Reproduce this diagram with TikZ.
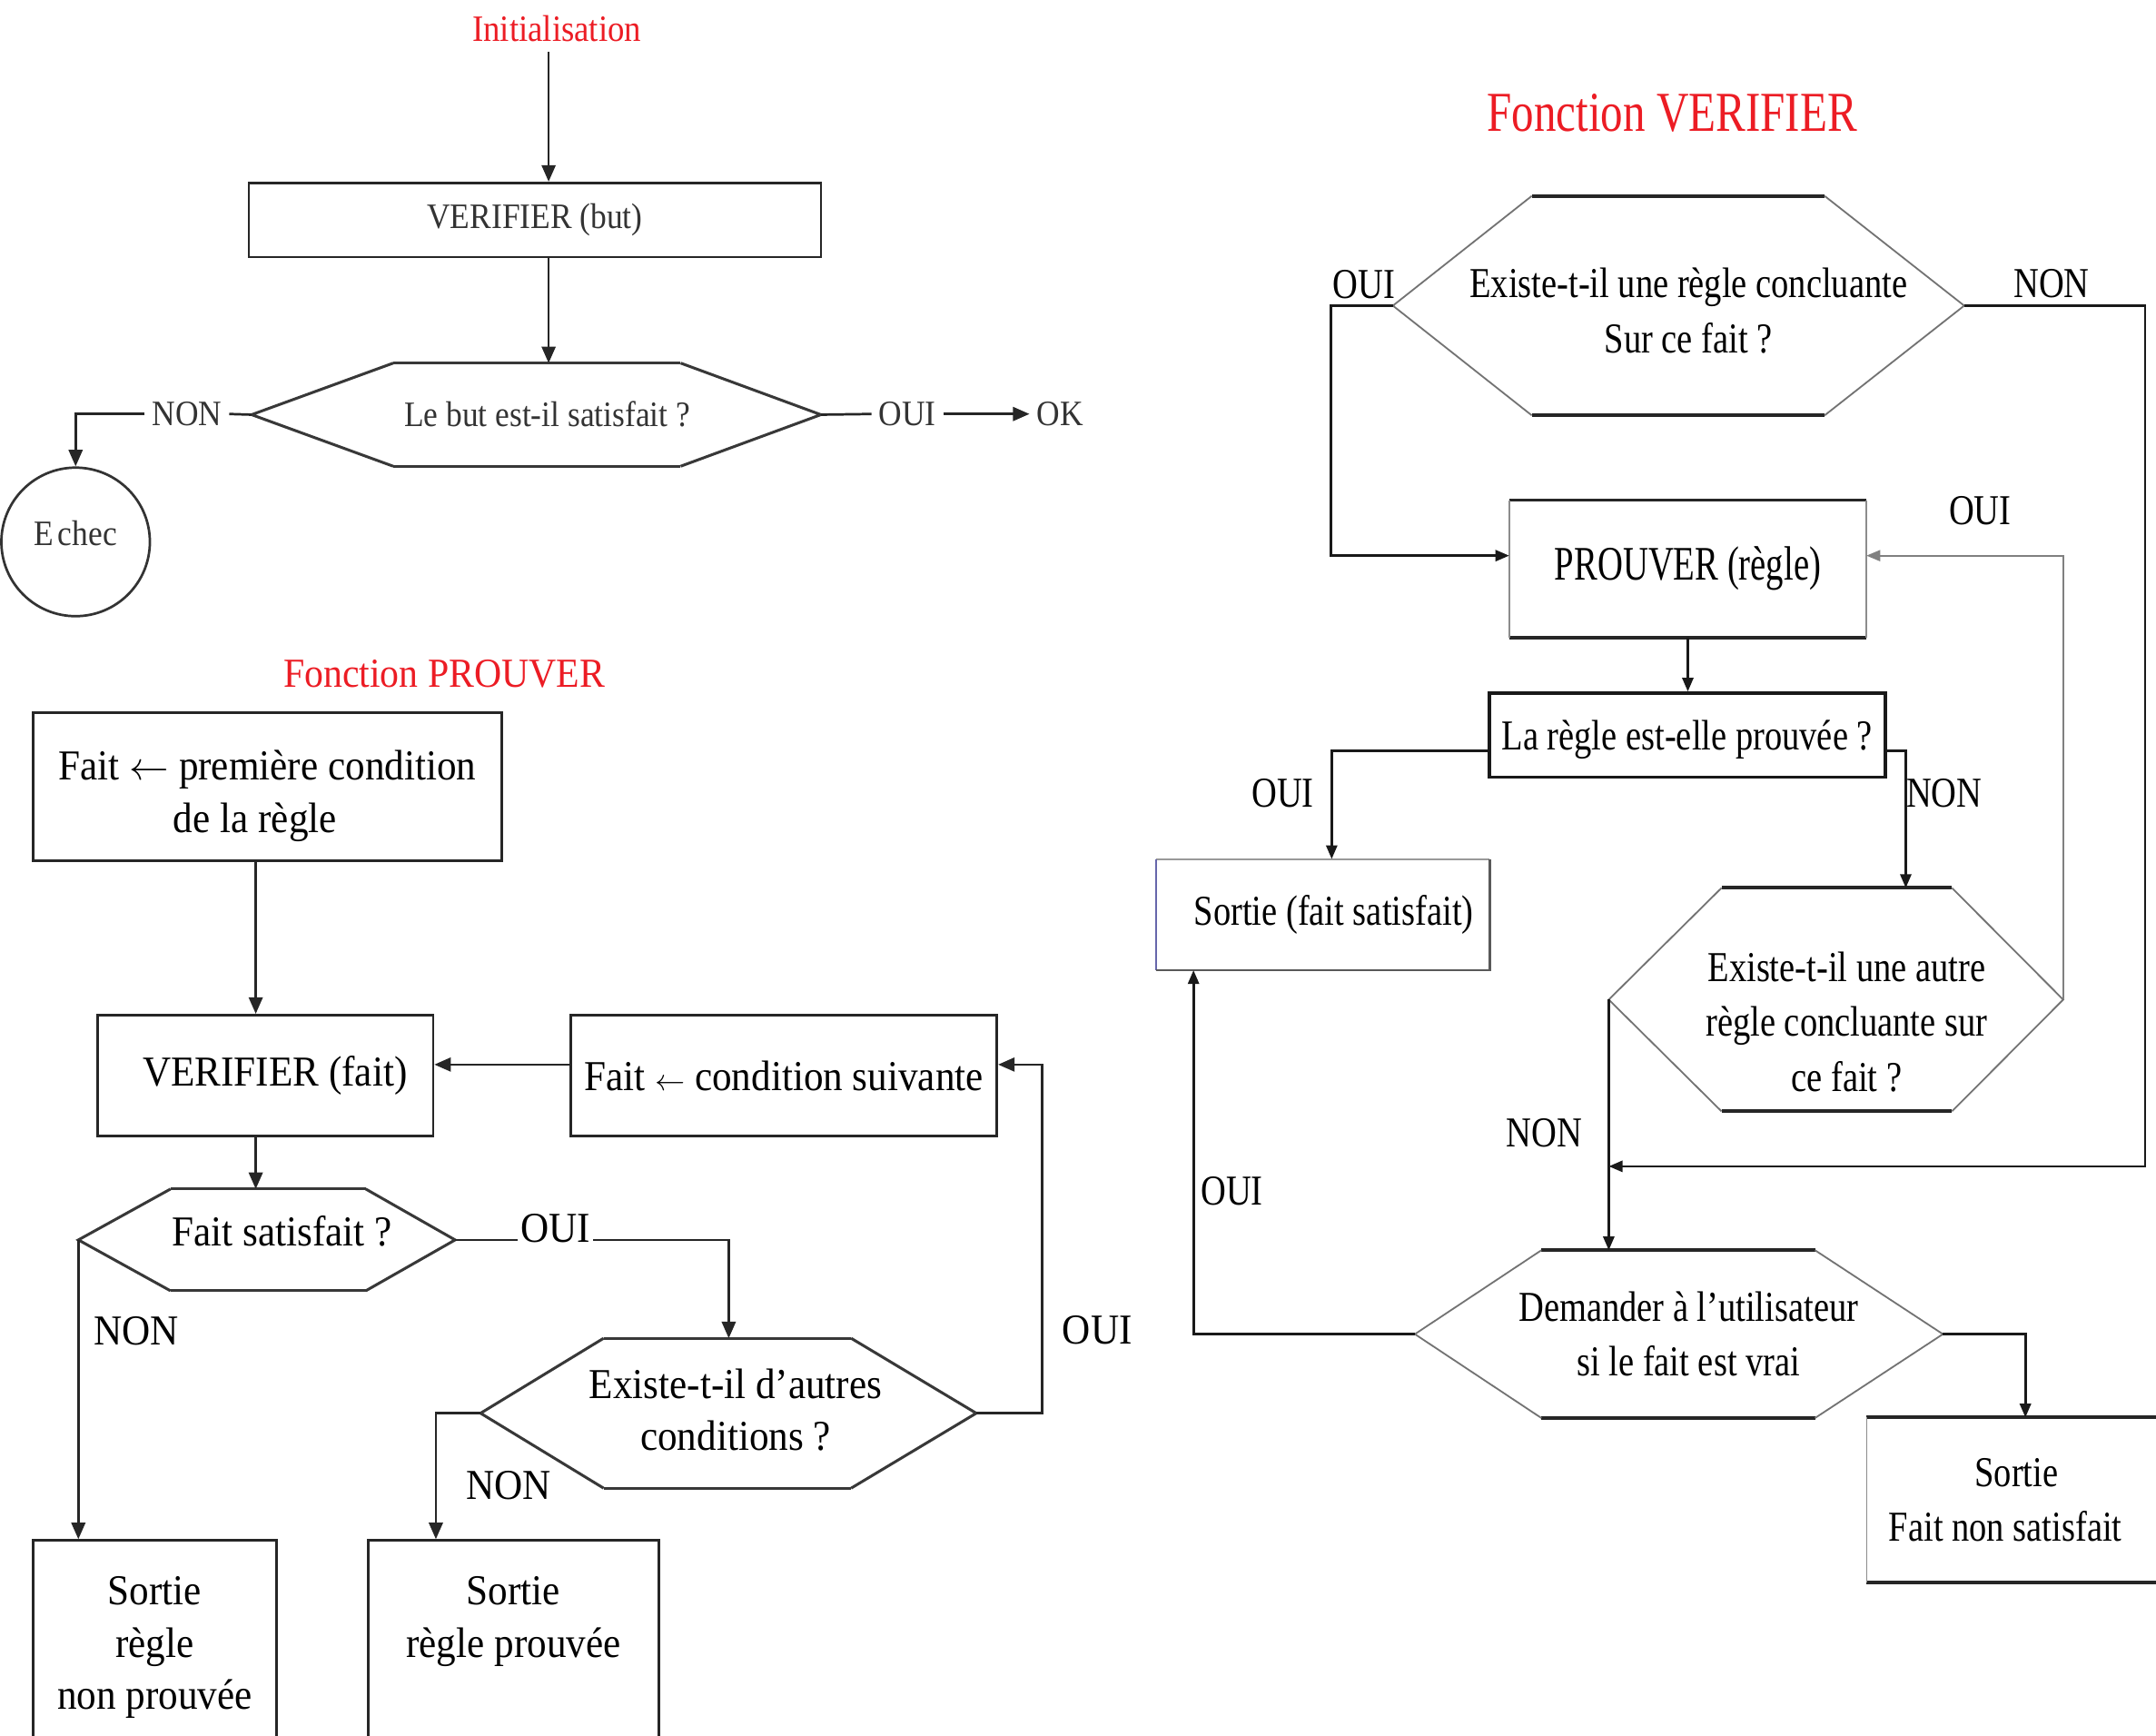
\documentclass[tikz,border=0pt]{standalone}
\usepackage{fontspec}
\setmainfont{Liberation Serif}
\newfontfamily\fT[FakeStretch=0.9]{Liberation Serif}
\newfontfamily\fP[FakeStretch=0.92]{Liberation Serif}
\newfontfamily\fR[FakeStretch=0.82]{Liberation Serif}
\newfontfamily\fRb[FakeStretch=0.73]{Liberation Serif}
\newfontfamily\fV[FakeStretch=0.79]{Liberation Serif}
\usetikzlibrary{arrows.meta,calc}
\definecolor{tred}{RGB}{236,28,36}
\newcommand\myhex[9]{%
  \pgfmathsetmacro\hxm{(#6+#7)/2}%
  \pgfmathsetmacro\hxc{(#3+#4)/2}%
  \coordinate (#1-w) at (#2,\hxm);
  \coordinate (#1-e) at (#5,\hxm);
  \coordinate (#1-n) at (\hxc,#6);
  \coordinate (#1-s) at (\hxc,#7);
  \draw[#8] (#3,#6) -- (#4,#6) (#3,#7) -- (#4,#7);
  \draw[#9] (#3,#6) -- (#2,\hxm) -- (#3,#7) (#4,#6) -- (#5,\hxm) -- (#4,#7);
}
\tikzset{
  ln/.style={line width=0.9pt, draw=black!85},
  arr/.style={ln, -{Triangle[length=6pt,width=5pt]}},
  arrR/.style={line width=0.9pt, draw=black!90, -{Triangle[length=5pt,width=4pt]}},
  arrG/.style={line width=0.6pt, draw=black!50, -{Triangle[length=5pt,width=4pt]}},
  box/.style={draw=black!85, line width=0.9pt, inner sep=0pt, align=center},
  hx/.style={line width=1pt, draw=black!78},
  hxt/.style={line width=1.3pt, draw=black!85},
  hxd/.style={line width=0.6pt, draw=black!55},
  thk/.style={line width=1.3pt, draw=black!85},
  thn/.style={line width=0.6pt, draw=black!45},
  topf/.style={font=\fT\fontsize{13}{16}\selectfont, text=black!80},
  pf/.style={font=\fP\fontsize{15.5}{19}\selectfont},
  rf/.style={font=\fR\fontsize{15.5}{20}\selectfont},
  lbl/.style={inner sep=2.5pt},
}
\begin{document}
\begin{tikzpicture}[x=0.5pt,y=-0.5pt]
\fill[white] (0,0) rectangle (1568,1262);
\useasboundingbox (0,0) rectangle (1568,1262);

% ---------------- Top: initialisation ----------------
\node[font=\fT\fontsize{13.5}{16}\selectfont, text=tred] (init) at (405,21) {Initialisation};
\node[box, topf, minimum width=208pt, minimum height=27pt] (vb) at (389,160) {VERIFIER (but)};
\myhex{hb}{183}{286}{495}{597}{264}{339}{hx}{hx}
\node[topf] (hbt) at (398,301) {Le but est-il satisfait ?};
\node[topf, lbl] (non1) at (136,301) {NON};
\node[topf, lbl] (oui1) at (660,301) {OUI};
\node[topf, lbl] (ok) at (771,301) {OK};
\node[draw=black!80, line width=0.9pt, circle, minimum size=54pt, inner sep=0pt, topf, text height=8.6pt, text depth=6pt] (echec) at (55,394) {E\kern1.5pt chec};

\coordinate (ax) at (399,0);
\draw[arr] (init.south -| ax) -- (vb.north -| ax);
\draw[arr] (vb.south -| ax) -- (hb-n -| ax);
\draw[ln] (hb-w) -- (non1.east);
\draw[arr] (non1.west) -| (echec.north);
\draw[ln] (hb-e) -- (oui1.west);
\draw[arr] (oui1.east) -- (ok.west);

% ---------------- Fonction PROUVER ----------------
\node[font=\fP\fontsize{15}{18}\selectfont, text=tred] (tp) at (323,490) {Fonction PROUVER};
\node[box, pf, minimum width=170.5pt, minimum height=54pt] (b1) at (194.5,572) {\rule{0pt}{17.6pt}Fait $\leftarrow$ première condition\\de la règle\hspace*{9pt}};
\node[box, pf, minimum width=122pt, minimum height=44pt] (vf) at (193,782) {\hspace*{7pt}VERIFIER (fait)};
\node[box, pf, minimum width=155pt, minimum height=44pt] (cs) at (570,782) {Fait $\scriptstyle\leftarrow$ condition suivante};
\myhex{hfs}{57}{124}{266}{331}{864.5}{938.5}{hx}{hx}
\node[pf] (hfst) at (205,895) {Fait satisfait ?};
\myhex{hda}{349.5}{439}{619}{710}{973}{1082}{hx}{hx}
\node[pf, align=center] (hdat) at (535,1025) {Existe-t-il d’autres\\conditions ?};
\node[box, pf, minimum width=88.5pt, minimum height=74pt] (snp) at (112.5,1194) {\rule{0pt}{14.1pt}Sortie\\règle\\non prouvée};
\node[box, pf, minimum width=105.5pt, minimum height=74pt] (srp) at (373.5,1194) {\rule{0pt}{16.6pt}Sortie\\règle prouvée\\\strut};

\coordinate (c186) at (186,0);
\draw[arr] (b1.south -| c186) -- (vf.north -| c186);
\draw[arr] (vf.south -| c186) -- (hfs-n -| c186);
\coordinate (c530) at (530,0);
\draw[arr] (hfs-e) -| (hda-n -| c530);
\draw[arr] (hda-e) -- ++(48,0) |- ([yshift=4pt]cs.east);
\draw[arr] ([yshift=4pt]cs.west) -- ([yshift=4pt]vf.east);
\coordinate (c317) at (317,0);
\draw[arr] (hda-w) -| (srp.north -| c317);
\draw[arr] (hfs-w) -- (hfs-w |- snp.north);

\node[pf, fill=white, inner sep=1pt] (oui2) at (404,893) {OUI};
\node[pf] (non2) at (99,968) {NON};
\node[pf] (oui3) at (798,967) {OUI};
\node[pf] (non3) at (370,1080) {NON};

% ---------------- Fonction VERIFIER ----------------
\node[font=\fV\fontsize{20.5}{24}\selectfont, text=tred] (tv) at (1216,82) {Fonction VERIFIER};
\myhex{h1}{1013}{1114}{1327}{1428.5}{142.5}{302}{hxt}{hxd}
\node[rf, align=center] (h1t) at (1228,226) {Existe-t-il une règle concluante\\Sur ce fait ?};
\node[font=\fRb\fontsize{17.5}{20}\selectfont, minimum width=129.5pt, minimum height=49.5pt, inner sep=0pt] (pr) at (1227.5,413.5) {PROUVER (règle)};
\draw[thk] (pr.north west) -- (pr.north east) (pr.south west) -- (pr.south east);
\draw[thn] (pr.north west) -- (pr.south west) (pr.north east) -- (pr.south east);
\node[rf, minimum width=144pt, minimum height=30.5pt, inner sep=0pt, draw=black!90, line width=1.2pt, text depth=0pt] (lr) at (1227,534.5) {La règle est-elle prouvée ?};
\node[rf, minimum width=121pt, minimum height=40pt, inner sep=0pt] (sfs) at (962,665) {\hspace*{8pt}Sortie (fait satisfait)};
\draw[line width=0.6pt, draw=black!40] (sfs.north west) -- (sfs.north east);
\draw[line width=0.6pt, draw=blue!45!black!60] (sfs.north west) -- (sfs.south west);
\draw[line width=0.9pt, draw=black!65] (sfs.north east) -- (sfs.south east) -- (sfs.south west);
\myhex{h2}{1170}{1252}{1419.6}{1500.5}{645.6}{808}{hxt}{hxd}
\node[rf, align=center] (h2t) at (1343,743) {Existe-t-il une autre\\règle concluante sur\\ce fait ?};
\myhex{h3}{1029}{1121}{1320}{1413}{909}{1031}{hxt}{hxd}
\node[rf, align=center] (h3t) at (1228,970) {Demander à l’utilisateur\\si le fait est vrai};
\node[rf, align=center, minimum width=108.5pt, minimum height=59.5pt, inner sep=0pt] (snf) at (1466.5,1090.5) {Sortie\\Fait non satisfait\hspace*{8pt}};
\draw[thk] (snf.north west) -- (snf.north east) (snf.south west) -- (snf.south east);
\draw[thn] (snf.north west) -- (snf.south west);

\draw[arrR] (h1-w) -- ++(-45,0) |- ([yshift=4.75pt]pr.west);
\coordinate (c848) at (0,848);
\draw[arrR] (h1-e) -- ++(131.5,0) |- (h2-w |- c848);
\draw[arrG] (h2-e) |- ([yshift=4.75pt]pr.east);
\draw[arrR] (pr.south) -- (pr.south |- lr.north);
\coordinate (c968) at (968.5,0);
\draw[arrR] ([yshift=-5.75pt]lr.west) -| (sfs.north -| c968);
\coordinate (c1386) at (1386,0);
\draw[arrR] ([yshift=-5.75pt]lr.east) -| (h2-n -| c1386);
\draw[arrR] (h2-w) -- (h2-w |- h3-n);
\coordinate (c868) at (868,0);
\draw[arrR] (h3-w) -| (sfs.south -| c868);
\coordinate (c1473) at (1473,0);
\draw[arrR] (h3-e) -| (snf.north -| c1473);

\node[rf] (oui4) at (992,207) {OUI};
\node[rf] (non4) at (1492,206) {NON};
\node[rf] (oui5) at (1440,371) {OUI};
\node[rf] (oui6) at (933,577) {OUI};
\node[rf] (non6) at (1414,577) {NON};
\node[rf] (non7) at (1123,824) {NON};
\node[rf] (oui7) at (896,866) {OUI};
\end{tikzpicture}
\end{document}
